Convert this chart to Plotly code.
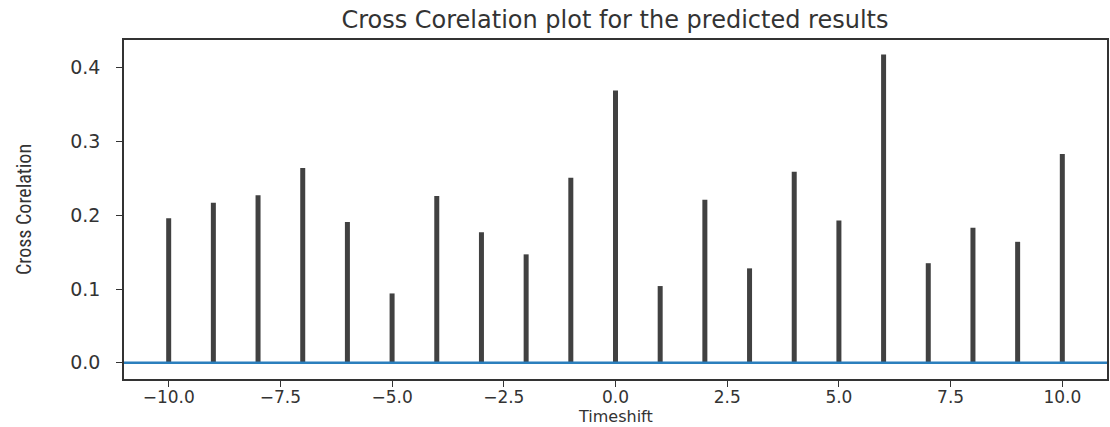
import plotly.graph_objects as go

lags = [-10, -9, -8, -7, -6, -5, -4, -3, -2, -1, 0, 1, 2, 3, 4, 5, 6, 7, 8, 9, 10]
xcorr_values = [0.196, 0.217, 0.227, 0.264, 0.191, 0.094, 0.226, 0.177, 0.147, 0.251,
                0.369, 0.104, 0.221, 0.128, 0.259, 0.193, 0.418, 0.135, 0.183, 0.164, 0.283]
x_tick_vals = [-10, -7.5, -5, -2.5, 0, 2.5, 5, 7.5, 10]
x_tick_text = ["\u221210.0", "\u22127.5", "\u22125.0", "\u22122.5", "0.0", "2.5", "5.0", "7.5", "10.0"]
y_tick_vals = [0.0, 0.1, 0.2, 0.3, 0.4]
y_tick_text = ["0.0", "0.1", "0.2", "0.3", "0.4"]

# build vertical stems from the data
xs, ys = [], []
for lag, v in zip(lags, xcorr_values):
    xs += [lag, lag, None]
    ys += [0, v, None]

fig = go.Figure()
fig.add_trace(go.Scatter(x=xs, y=ys, mode="lines",
                         line=dict(color="#414141", width=5),
                         hoverinfo="skip", showlegend=False))
fig.add_hline(y=0, line=dict(color="#2b7fbd", width=2.5))

font_main = "DejaVu Sans, Verdana, sans-serif"
fig.update_layout(
    width=1110, height=427,
    margin=dict(l=124, r=3, t=40, b=48),
    paper_bgcolor="white", plot_bgcolor="white",
    title=dict(text="Cross Corelation plot for the predicted results",
               x=0.554, xanchor="center", y=0.955, yanchor="middle",
               font=dict(family=font_main, size=24, color="#333333")),
    font=dict(family=font_main, color="#333333"),
)
fig.add_annotation(text="Timeshift", xref="paper", yref="paper",
                   x=0.5, y=-0.112, xanchor="center", yanchor="middle",
                   showarrow=False, borderpad=0,
                   font=dict(family=font_main, size=16, color="#333333"))
fig.update_xaxes(
    range=[-11, 11], tickvals=x_tick_vals, ticktext=x_tick_text,
    ticks="outside", ticklen=6, tickwidth=1.2, tickcolor="#333333",
    tickfont=dict(size=17, color="#333333"), ticklabelstandoff=-4, automargin=False,
    showline=True, linecolor="#333333", linewidth=1.5, mirror=True,
    showgrid=False, zeroline=False,
)
fig.update_yaxes(
    range=[-0.022, 0.4376], tickvals=y_tick_vals, ticktext=y_tick_text,
    ticks="outside", ticklen=6, tickwidth=1.2, tickcolor="#333333",
    tickfont=dict(size=19, color="#333333"), ticklabelstandoff=12, automargin=False,
    showline=True, linecolor="#333333", linewidth=1.5, mirror=True,
    showgrid=False, zeroline=False,
    title=dict(text="Cross Corelation", standoff=33,
               font=dict(family="Liberation Sans Narrow, Roboto Condensed, Liberation Sans, sans-serif",
                         size=20, color="#333333")),
)

fig.write_html("out.html")
